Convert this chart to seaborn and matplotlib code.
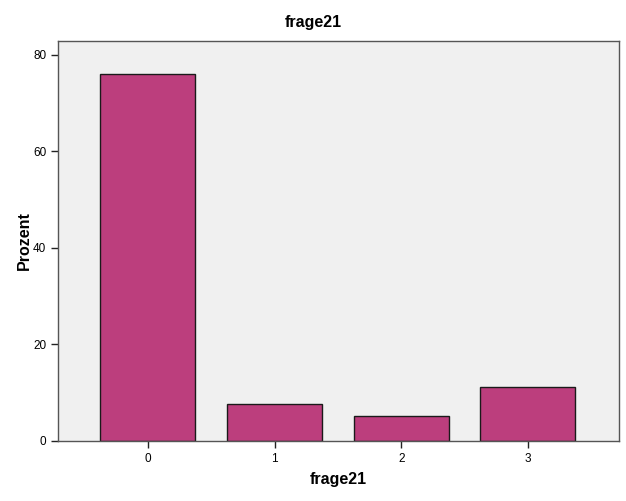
import pandas as pd
import seaborn as sns
import matplotlib.pyplot as plt

# Werte
kategorien = ['0', '1', '2', '3']
prozent = [76.1, 7.7, 5.1, 11.1]

df = pd.DataFrame({'frage21': kategorien, 'Prozent': prozent})

sns.set_style('ticks')
plt.rcParams['font.family'] = ['Liberation Sans', 'DejaVu Sans']
plt.rcParams['text.color'] = 'black'
plt.rcParams['axes.labelcolor'] = 'black'
plt.rcParams['xtick.color'] = 'black'
plt.rcParams['ytick.color'] = 'black'

fig = plt.figure(figsize=(6.26, 5.01), dpi=100)
ax = fig.add_axes([0.0927, 0.1198, 0.8961, 0.7984])

sns.barplot(data=df, x='frage21', y='Prozent', order=kategorien,
            color='#BC3E7D', saturation=1, width=0.75,
            edgecolor='#1a1a1a', linewidth=1.0, ax=ax)

ax.set_facecolor('#F0F0F0')
ax.set_xlim(-0.71, 3.72)
ax.set_ylim(0, 82.9)
ax.set_yticks([0, 20, 40, 60, 80])

for s in ax.spines.values():
    s.set_color('#555555')
    s.set_linewidth(1.0)
    s.set_visible(True)

ax.tick_params(axis='both', labelsize=8.5, color='#222222', length=5, width=1)
# Titel ist auf die ganze Abbildung zentriert
fig.text(0.5, 1 - 22 / 501, 'frage21', ha='center', va='center',
         fontsize=11.5, fontweight='bold')
ax.set_xlabel('frage21', fontsize=11.5, fontweight='bold', labelpad=5)
ax.set_ylabel('Prozent', fontsize=11.5, fontweight='bold', labelpad=1)

fig.savefig('out.png', dpi=100)
